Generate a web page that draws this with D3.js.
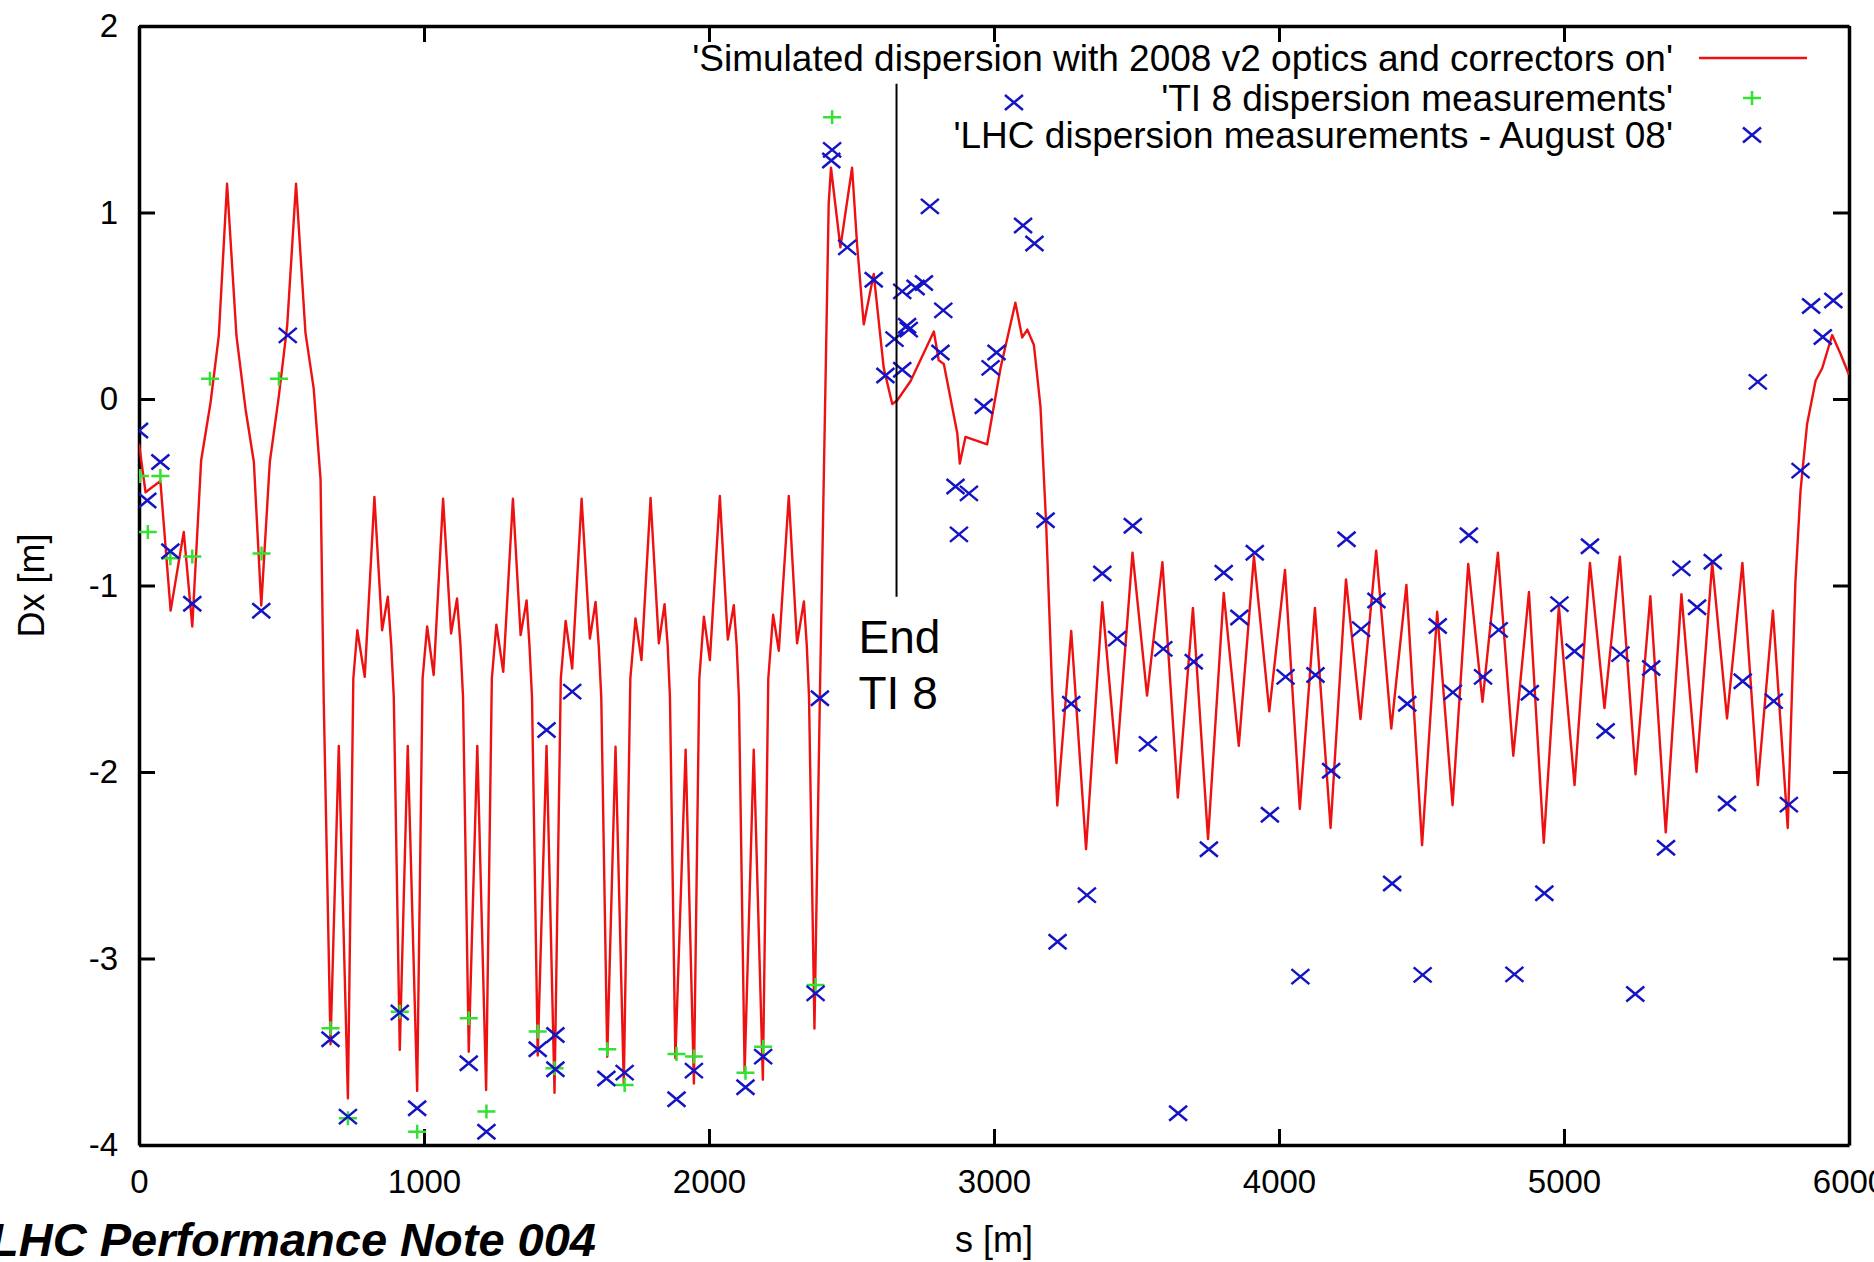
<!DOCTYPE html>
<html>
<head>
<meta charset="utf-8">
<script src="https://cdn.jsdelivr.net/npm/d3@7"></script>
<style>
  body { margin: 0; background: #ffffff; }
  svg { display: block; font-family: "Liberation Sans", Arial, sans-serif; }
</style>
</head>
<body>
<div id="chart"></div>
<script>
// posiciones s [m] y valores Dx [m] de la curva simulada
var simS = [0, 23, 75, 111, 157, 187, 218, 251, 280, 309, 342, 374, 403, 429, 459, 491, 520, 551, 584, 613, 637, 648,
  672, 701, 733, 752, 766, 792, 826, 853, 873, 885, 894,
  915, 943, 976, 995, 1011, 1034, 1067, 1095, 1116, 1128, 1137,
  1157, 1187, 1218, 1238, 1254, 1278, 1312, 1339, 1360, 1370, 1379,
  1399, 1430, 1458, 1480, 1497, 1520, 1553, 1582, 1602, 1613, 1622,
  1643, 1672, 1701, 1724, 1742, 1763, 1795, 1824, 1844, 1855, 1863,
  1882, 1918, 1947, 1966, 1982, 2003, 2038, 2066, 2087, 2097, 2105,
  2125, 2157, 2189, 2208, 2225, 2245, 2280, 2309, 2333, 2343, 2351,
  2370, 2389, 2420, 2428, 2461, 2502, 2520, 2543, 2578, 2613, 2643, 2660, 2707, 2789, 2806, 2824, 2871, 2880, 2900, 2976, 3023, 3075, 3099, 3117, 3140, 3163,
  3183, 3204, 3222, 3271, 3323, 3380, 3430, 3486, 3537, 3591, 3645, 3698, 3751, 3806, 3859, 3912, 3966, 4021, 4073, 4126, 4181, 4235, 4286, 4341, 4394, 4447,
  4502, 4555, 4609, 4664, 4714, 4768, 4822, 4877, 4929, 4982, 5037, 5091, 5142, 5196, 5251, 5303, 5357, 5412, 5465, 5520, 5572, 5626, 5680, 5733, 5785,
  5812, 5830, 5853, 5883, 5906, 5941, 5970, 6000];
var simDx = [-0.24, -0.50, -0.44, -1.135, -0.713, -1.22, -0.33, -0.02, 0.338, 1.154, 0.338, -0.056, -0.338, -1.107, -0.338, 0.019, 0.394, 1.154, 0.356, 0.056, -0.43, -1.6,
  -3.46, -1.86, -3.75, -1.5, -1.24, -1.49, -0.525, -1.24, -1.06, -1.32, -1.6,
  -3.49, -1.86, -3.71, -1.5, -1.22, -1.48, -0.535, -1.257, -1.07, -1.32, -1.6,
  -3.50, -1.86, -3.705, -1.5, -1.21, -1.463, -0.535, -1.266, -1.08, -1.32, -1.6,
  -3.52, -1.86, -3.72, -1.5, -1.19, -1.445, -0.535, -1.285, -1.088, -1.32, -1.6,
  -3.527, -1.864, -3.67, -1.5, -1.177, -1.40, -0.531, -1.31, -1.10, -1.32, -1.6,
  -3.535, -1.88, -3.67, -1.5, -1.167, -1.40, -0.52, -1.29, -1.106, -1.32, -1.6,
  -3.607, -1.88, -3.65, -1.5, -1.157, -1.35, -0.52, -1.31, -1.085, -1.32, -1.6,
  -3.375, -1.6, 1.05, 1.24, 0.813, 1.24, 0.82, 0.40, 0.67, 0.167, -0.027, -0.008, 0.095, 0.362, 0.208, 0.188, -0.182, -0.346, -0.203, -0.243, 0.166, 0.516, 0.33, 0.372, 0.29, -0.04,
  -0.67, -1.56, -2.18, -1.244, -2.414, -1.09, -1.952, -0.824, -1.59, -0.875, -2.137, -1.12, -2.36, -1.04, -1.86, -0.844, -1.675, -0.916, -2.198, -1.12, -2.30, -0.967, -1.716, -0.813, -1.767, -0.997,
  -2.393, -1.141, -2.178, -0.885, -1.624, -0.824, -1.913, -1.035, -2.38, -1.113, -2.07, -0.879, -1.657, -0.846, -2.013, -1.057, -2.324, -1.046, -2.00, -0.879, -1.713, -0.879, -2.07, -1.135, -2.30,
  -0.98, -0.49, -0.134, 0.099, 0.165, 0.343, 0.243, 0.13];

// medidas TI 8
var ti8S = [3, 31, 75, 110, 187, 249, 430, 491, 672, 733, 915, 976, 1157, 1219, 1399, 1458, 1643, 1704, 1886, 1947, 2128, 2190, 2374, 2432];
var ti8Dx = [-0.413, -0.713, -0.413, -0.854, -0.844, 0.109, -0.829, 0.109, -3.374, -3.857, -3.285, -3.929, -3.321, -3.82, -3.392, -3.589, -3.487, -3.678, -3.512, -3.526, -3.612, -3.473, -3.142, 1.511];

// medidas LHC agosto 08
var lhcS = [0, 29, 75, 110, 187, 429, 522,
  672, 733, 915, 976, 1157, 1219, 1399, 1430, 1461, 1461, 1520,
  1640, 1704, 1886, 1947, 2128, 2190, 2374, 2389,
  2429, 2432, 2485, 2578, 2619, 2651, 2678, 2678, 2695, 2701, 2725, 2754, 2775, 2812, 2822, 2865, 2877, 2912, 2964, 2988, 3009, 3070, 3102, 3142, 3181,
  3223, 3271, 3326, 3380, 3432, 3487, 3540, 3594, 3646, 3701, 3754, 3806, 3861, 3915, 3968, 4023, 4075, 4128, 4183, 4237, 4288, 4342, 4397, 4450,
  4504, 4557, 4610, 4666, 4716, 4771, 4826, 4880, 4931, 4984, 5037, 5091, 5146, 5198, 5250, 5306, 5358, 5412, 5467, 5522, 5572, 5627, 5680, 5736, 5789,
  5830, 5867, 5908, 5945];
var lhcDx = [-0.169, -0.544, -0.338, -0.816, -1.098, -1.135, 0.341,
  -3.433, -3.848, -3.29, -3.803, -3.562, -3.929, -3.487, -1.775, -3.41, -3.594, -1.569,
  -3.643, -3.612, -3.755, -3.601, -3.69, -3.526, -3.187, -1.605,
  1.279, 1.336, 0.813, 0.639, 0.126, 0.321, 0.157, 0.577, 0.393, 0.372, 0.598, 0.622, 1.033, 0.249, 0.475, -0.469, -0.726, -0.506, -0.039, 0.167, 0.249, 1.59, 0.93, 0.834, -0.65,
  -2.91, -1.634, -2.66, -0.936, -1.285, -0.68, -1.849, -1.34, -3.83, -1.409, -2.414, -0.932, -1.172, -0.824, -2.229, -1.49, -3.097, -1.48, -1.993, -0.752, -1.234, -1.08, -2.598, -1.634,
  -3.088, -1.217, -1.573, -0.731, -1.49, -1.238, -3.085, -1.575, -2.65, -1.10, -1.353, -0.79, -1.78, -1.368, -3.19, -1.442, -2.406, -0.908, -1.117, -0.873, -2.169, -1.513, 0.092, -1.62, -2.175,
  -0.384, 0.499, 0.332, 0.528];

var xTicks = [0, 1000, 2000, 3000, 4000, 5000, 6000];
var yTicks = [-4, -3, -2, -1, 0, 1, 2];
var legendLabels = ["'Simulated dispersion with 2008 v2 optics and correctors on'",
  "'TI 8 dispersion measurements'",
  "'LHC dispersion measurements - August 08'"];
var endTI8S = 2658;   // posición de la línea "End TI 8"
var endTI8Dx = [1.69, -1.06];

var W = 1874, H = 1262;
var plotLeft = 139, plotRight = 1849, plotTop = 26, plotBottom = 1145;

var svg = d3.select("#chart").append("svg")
  .attr("width", W).attr("height", H);
svg.append("rect").attr("width", W).attr("height", H).attr("fill", "#ffffff");

var x = d3.scaleLinear().domain([0, 6000]).range([plotLeft, plotRight]);
var y = d3.scaleLinear().domain([-4, 2]).range([plotBottom, plotTop]);

svg.append("clipPath").attr("id", "plotclip")
  .append("rect").attr("x", plotLeft).attr("y", plotTop)
  .attr("width", plotRight - plotLeft).attr("height", plotBottom - plotTop);

// ejes con ticks hacia dentro (guion normal como signo menos, igual que gnuplot)
var fmt = function (d) { return String(d); };
var tickLen = 16;
var gBottom = svg.append("g").attr("transform", "translate(0," + plotBottom + ")")
  .call(d3.axisBottom(x).tickValues(xTicks).tickFormat(fmt).tickSizeInner(-tickLen).tickSizeOuter(0).tickPadding(25));
var gTop = svg.append("g").attr("transform", "translate(0," + plotTop + ")")
  .call(d3.axisTop(x).tickValues(xTicks).tickFormat("").tickSizeInner(-tickLen).tickSizeOuter(0));
var gLeft = svg.append("g").attr("transform", "translate(" + plotLeft + ",0)")
  .call(d3.axisLeft(y).tickValues(yTicks).tickFormat(fmt).tickSizeInner(-tickLen).tickSizeOuter(0).tickPadding(21));
var gRight = svg.append("g").attr("transform", "translate(" + plotRight + ",0)")
  .call(d3.axisRight(y).tickValues(yTicks).tickFormat("").tickSizeInner(-tickLen).tickSizeOuter(0));

[gBottom, gTop, gLeft, gRight].forEach(function (g) {
  g.selectAll(".domain").attr("stroke", "#000").attr("stroke-width", 3.5);
  g.selectAll(".tick line").attr("stroke", "#000").attr("stroke-width", 3);
  g.selectAll(".tick text").attr("fill", "#000").style("font-size", "33px")
    .style("font-family", "'Liberation Sans', Arial, sans-serif");
});

// títulos de ejes
svg.append("text")
  .attr("transform", "translate(44," + ((plotTop + plotBottom) / 2) + ") rotate(-90)")
  .attr("text-anchor", "middle")
  .style("font-size", "36px")
  .text("Dx [m]");
svg.append("text")
  .attr("x", (plotLeft + plotRight) / 2).attr("y", 1252)
  .attr("text-anchor", "middle")
  .style("font-size", "36px")
  .text("s [m]");

// curva simulada
var plot = svg.append("g").attr("clip-path", "url(#plotclip)");
var simData = simS.map(function (s, i) { return [s, simDx[i]]; });
plot.append("path")
  .datum(simData)
  .attr("fill", "none")
  .attr("stroke", "#ee1111")
  .attr("stroke-width", 2.4)
  .attr("stroke-linejoin", "round")
  .attr("d", d3.line().x(function (d) { return x(d[0]); }).y(function (d) { return y(d[1]); }));

// marcadores
var plusPath = "M-9,0H9M0,-7V7";
var crossPath = "M-9,-7.5L9,7.5M-9,7.5L9,-7.5";
var green = "#33e033", blue = "#1414c4";

plot.selectAll(".ti8").data(ti8S).enter().append("path")
  .attr("class", "ti8")
  .attr("transform", function (d, i) { return "translate(" + x(d) + "," + y(ti8Dx[i]) + ")"; })
  .attr("d", plusPath).attr("stroke", green).attr("stroke-width", 2.5).attr("fill", "none");

plot.selectAll(".lhc").data(lhcS).enter().append("path")
  .attr("class", "lhc")
  .attr("transform", function (d, i) { return "translate(" + x(d) + "," + y(lhcDx[i]) + ")"; })
  .attr("d", crossPath).attr("stroke", blue).attr("stroke-width", 2.5).attr("fill", "none");

// línea fin de TI 8
svg.append("line")
  .attr("x1", x(endTI8S)).attr("x2", x(endTI8S))
  .attr("y1", y(endTI8Dx[0])).attr("y2", y(endTI8Dx[1]))
  .attr("stroke", "#000").attr("stroke-width", 2);
svg.append("text").attr("x", x(endTI8S) - 38).attr("y", 653)
  .style("font-size", "46px").text("End");
svg.append("text").attr("x", x(endTI8S) - 38).attr("y", 709)
  .style("font-size", "46px").text("TI 8");

// leyenda
var legX = 1673, legRowY = [58, 98, 135];
var legend = svg.append("g");
legend.selectAll("text").data(legendLabels).enter().append("text")
  .attr("x", legX).attr("y", function (d, i) { return legRowY[i]; })
  .attr("dy", "0.35em")
  .attr("text-anchor", "end")
  .style("font-size", "37px")
  .text(function (d) { return d; });
legend.append("line")
  .attr("x1", 1699).attr("x2", 1807).attr("y1", legRowY[0]).attr("y2", legRowY[0])
  .attr("stroke", "#ee1111").attr("stroke-width", 2.5);
legend.append("path").attr("transform", "translate(1752," + legRowY[1] + ")")
  .attr("d", plusPath).attr("stroke", green).attr("stroke-width", 2.5);
legend.append("path").attr("transform", "translate(1752," + legRowY[2] + ")")
  .attr("d", crossPath).attr("stroke", blue).attr("stroke-width", 2.5);

// nota al pie
svg.append("text")
  .attr("x", 596).attr("y", 1256)
  .attr("text-anchor", "end")
  .style("font-size", "47px")
  .style("font-weight", "bold")
  .style("font-style", "italic")
  .text("LHC Performance Note 004");
</script>
</body>
</html>
